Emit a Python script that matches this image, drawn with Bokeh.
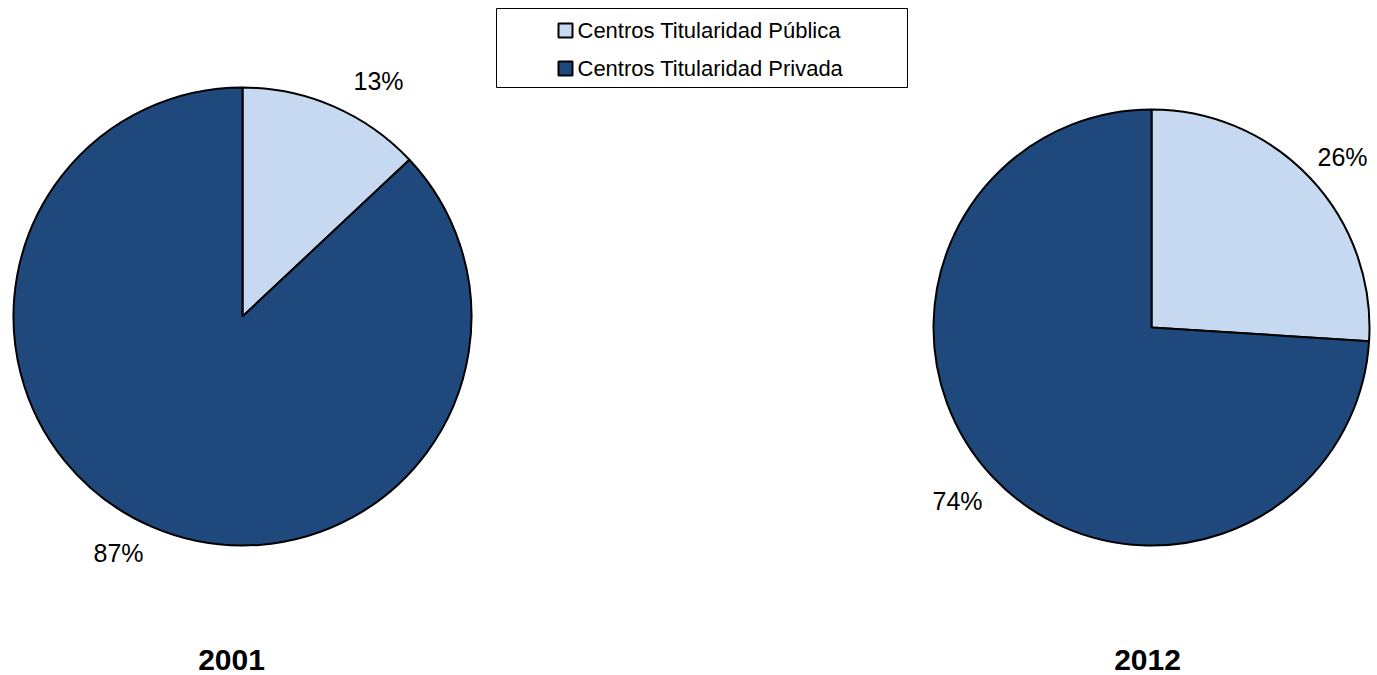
import math
from bokeh.plotting import figure
from bokeh.models import Range1d
from bokeh.core.properties import value
from bokeh.embed import file_html
from bokeh.resources import INLINE

# ---- data ----
categories = ["Centros Titularidad Pública", "Centros Titularidad Privada"]
years = ["2001", "2012"]
share_2001 = [13, 87]
share_2012 = [26, 74]
label_2001 = ["13%", "87%"]
label_2012 = ["26%", "74%"]

colors = ["#C6D9F0", "#1F497D"]
FONT = "Liberation Sans"

W, H = 1377, 675
p = figure(width=W, height=H, output_backend="svg", toolbar_location=None,
           x_range=Range1d(0, W), y_range=Range1d(0, H),
           min_border=0)
p.axis.visible = False
p.grid.visible = False
p.outline_line_color = None
p.background_fill_color = "white"
p.border_fill_color = "white"

def Y(py):  # page y -> data y
    return H - py

def draw_pie(cx, cy, r, shares, labels, label_pos, title, title_pos):
    total = float(sum(shares))
    start = 90.0
    for s, c in zip(shares, colors):
        sweep = 360.0 * s / total
        end = start - sweep
        p.wedge(x=cx, y=Y(cy), radius=r,
                start_angle=math.radians(end), end_angle=math.radians(start),
                fill_color=c, line_color="black", line_width=2)
        start = end
    for lab, (lx, ly) in zip(labels, label_pos):
        p.text(x=[lx], y=[Y(ly)], text=[lab], text_font=value(FONT),
               text_font_size="25px", text_align="center",
               text_baseline="middle", text_color="black")
    p.text(x=[title_pos[0]], y=[Y(title_pos[1])], text=[title],
           text_font=value(FONT), text_font_size="30px", text_font_style="bold",
           text_align="center", text_baseline="middle", text_color="black")

draw_pie(242, 316, 229, share_2001, label_2001, [(378, 80), (118, 552)],
         years[0], (231, 659))
draw_pie(1151, 327, 218, share_2012, label_2012, [(1342, 156), (957, 500)],
         years[1], (1147, 659))

# legend box
p.quad(left=496, right=907, top=Y(8), bottom=Y(87), fill_color="white",
       line_color="black", line_width=1)
for i, (cat, c) in enumerate(zip(categories, colors)):
    yy = 30 + 38 * i
    p.rect(x=565, y=Y(yy), width=14, height=14, fill_color=c,
           line_color="black", line_width=2)
    p.text(x=[577], y=[Y(yy)], text=[cat], text_font=value(FONT),
           text_font_size="22px", text_align="left", text_baseline="middle",
           text_color="black")

open("out.html", "w").write(file_html(p, INLINE))
